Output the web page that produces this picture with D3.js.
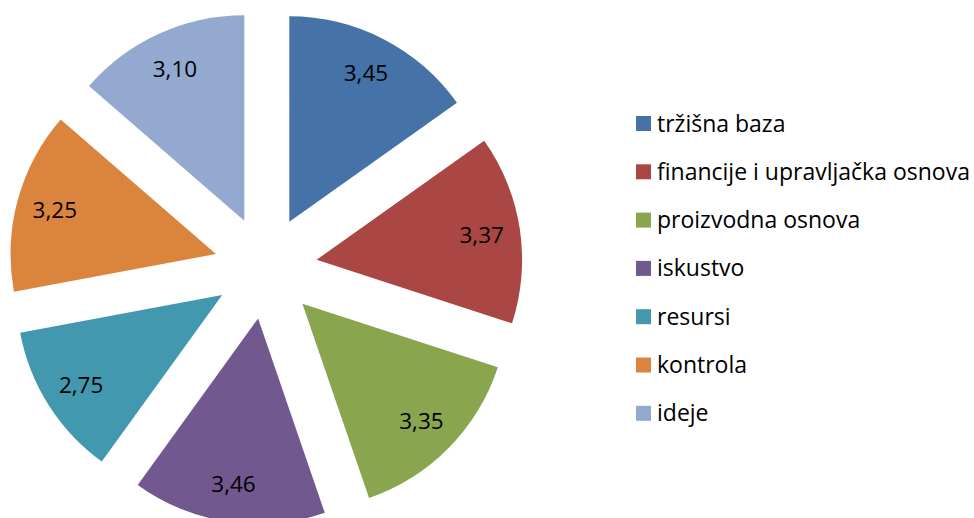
<!DOCTYPE html>
<html>
<head>
<meta charset="utf-8">
<script src="https://d3js.org/d3.v7.min.js"></script>
<style>
body { margin: 0; background: #fff; }
</style>
</head>
<body>
<div id="chart"></div>
<script>
var categories = ['tržišna baza', 'financije i upravljačka osnova', 'proizvodna osnova',
                  'iskustvo', 'resursi', 'kontrola', 'ideje'];
var values = [3.45, 3.37, 3.35, 3.46, 2.75, 3.25, 3.10];
var colors = ['#4572A7', '#AA4643', '#89A54E', '#71588F', '#4198AF', '#DB843D', '#93A9CF'];

var svgWidth = 974;
var svgHeight = 518;

var cx = 265.7, cy = 267.5;
var radius = 205.5;
var explode = 51.5;
var labelRadius = 167;

var svg = d3.select('#chart')
            .append('svg')
            .attr('width', svgWidth)
            .attr('height', svgHeight);

var data = categories.map(function(c, i) {
    return {name: c, value: values[i], color: colors[i]};
});

var pie = d3.pie().sort(null).value(d => d.value);
var arc = d3.arc().innerRadius(0).outerRadius(radius);

var arcs = pie(data);

var pieGroup = svg.append('g')
                  .attr('transform', `translate(${cx}, ${cy})`);

var slices = pieGroup.selectAll('g.slice')
                     .data(arcs)
                     .enter()
                     .append('g')
                     .attr('class', 'slice')
                     .attr('transform', function(d) {
                         var a = (d.startAngle + d.endAngle) / 2;
                         return `translate(${explode * Math.sin(a)}, ${-explode * Math.cos(a)})`;
                     });

slices.append('path')
      .attr('d', arc)
      .attr('fill', d => d.data.color);

slices.append('text')
      .attr('x', function(d) {
          var a = (d.startAngle + d.endAngle) / 2;
          return labelRadius * Math.sin(a);
      })
      .attr('y', function(d) {
          var a = (d.startAngle + d.endAngle) / 2;
          return -labelRadius * Math.cos(a);
      })
      .attr('dy', '0.36em')
      .attr('text-anchor', 'middle')
      .attr('font-family', 'Open Sans, sans-serif')
      .attr('font-size', '22.5px')
      .attr('fill', '#000')
      .text(d => d3.format('.2f')(d.data.value).replace('.', ','));

// legend
var legend = svg.append('g')
                .attr('transform', 'translate(636, 116)');

var rows = legend.selectAll('g.row')
                 .data(data)
                 .enter()
                 .append('g')
                 .attr('class', 'row')
                 .attr('transform', (d, i) => `translate(0, ${i * 48.3})`);

rows.append('rect')
    .attr('width', 15)
    .attr('height', 15)
    .attr('fill', d => d.color);

rows.append('text')
    .attr('x', 21)
    .attr('y', 15.5)
    .attr('font-family', 'Open Sans, sans-serif')
    .attr('font-size', '23px')
    .attr('fill', '#000')
    .text(d => d.name);
</script>
</body>
</html>
